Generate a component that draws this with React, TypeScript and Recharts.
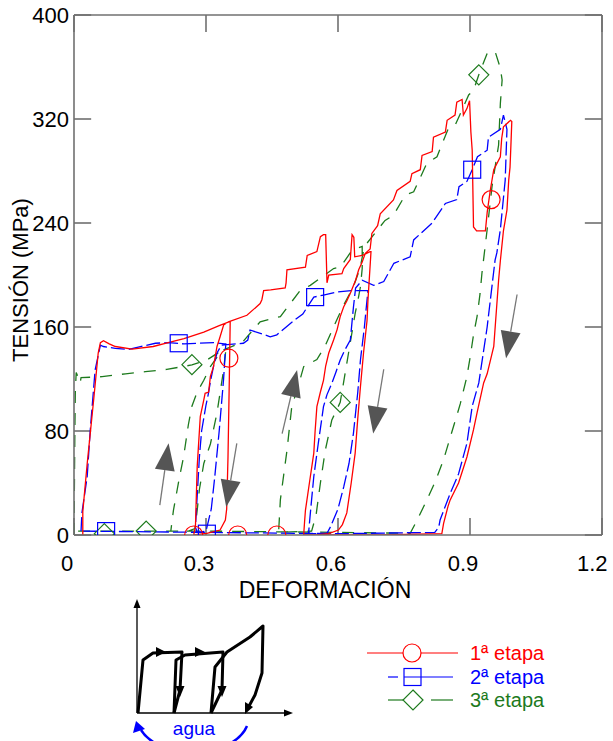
import React from 'react'
import { ComposedChart, Line, Scatter, XAxis, YAxis, ReferenceLine } from 'recharts'

// ---- data (strain, MPa) ----
const redX = [
  0.02, 0.02, 0.03, 0.045, 0.055, 0.06, 0.067, 0.08, 0.094, 0.132, 0.18, 0.214, 0.25, 0.295, 0.33, 0.352,
  0.355, 0.353, 0.35, 0.347, 0.344, 0.332, 0.302, 0.272,
  0.276, 0.28, 0.287, 0.295, 0.298, 0.306, 0.31, 0.317, 0.325, 0.332, 0.34, 0.351,
  0.393, 0.423, 0.427, 0.431, 0.447, 0.48, 0.482, 0.484, 0.526, 0.53, 0.552, 0.56, 0.567, 0.572, 0.575, 0.579, 0.609, 0.613, 0.628, 0.632, 0.636, 0.638, 0.655, 0.673,
  0.675, 0.668, 0.666, 0.658, 0.651, 0.645, 0.639, 0.63, 0.62, 0.61, 0.601, 0.579, 0.55, 0.522,
  0.524, 0.526, 0.535, 0.545, 0.548, 0.552, 0.56, 0.567, 0.572, 0.579, 0.59, 0.598, 0.605, 0.613, 0.62, 0.628, 0.64, 0.647, 0.655, 0.662, 0.673, 0.677, 0.69, 0.696,
  0.726, 0.734, 0.764, 0.768, 0.787, 0.791, 0.814, 0.817, 0.844, 0.848, 0.866, 0.87, 0.882, 0.885, 0.893, 0.899,
  0.902, 0.905, 0.908, 0.915, 0.935,
  0.939, 0.946, 0.954, 0.969, 0.972, 0.976, 0.992, 0.995,
  0.993, 0.991, 0.988, 0.984, 0.976, 0.969, 0.965, 0.954, 0.939, 0.931, 0.916, 0.908, 0.893, 0.874, 0.855, 0.85, 0.84, 0.836,
  0.7, 0.522,
]
const redY = [
  0, 18, 55, 105, 140, 148, 149.5, 147, 145, 143, 145, 148, 151, 156, 161, 164,
  164, 120, 60, 20, 11.5, 3.8, 1.3, 0,
  6.4, 52.6, 91, 104, 109, 110, 122, 129.5, 145, 152.5, 161.5, 164,
  169, 178, 181, 188, 188.5, 190, 194, 204, 206, 215, 218, 229.5, 231, 231, 194, 200, 201, 205, 212, 231, 229, 214, 215, 218,
  218, 180, 165, 140, 114, 90, 63, 40, 17, 8, 3.8, 1, 0, 0,
  10, 19, 40, 63, 80, 98.7, 110, 119, 130, 140, 150, 158, 168, 175.6, 180, 186, 196, 204, 210, 216.7, 220, 232, 238, 247,
  257.7, 265, 272, 278, 281, 292, 295, 306, 310, 319, 323, 333, 335, 323, 328, 334,
  310, 296, 237, 234, 234,
  248, 265, 281, 291, 305, 314, 319, 318,
  300, 283, 273, 250, 234, 211, 196, 145, 124, 117, 94, 81, 60, 40, 27, 22, 9, 1,
  0, 0,
]

const blueX = [
  0.016, 0.018, 0.03, 0.037, 0.048, 0.06, 0.067, 0.094, 0.124, 0.185, 0.215, 0.25, 0.317, 0.342,
  0.345, 0.34, 0.33, 0.32, 0.312, 0.306, 0.3, 0.28,
  0.276, 0.28, 0.285, 0.29, 0.3, 0.305, 0.31, 0.317, 0.325, 0.335,
  0.385, 0.395, 0.4, 0.446, 0.461, 0.5, 0.52, 0.545, 0.567, 0.6, 0.63, 0.668,
  0.66, 0.651, 0.645, 0.635, 0.625, 0.613, 0.6, 0.583, 0.575, 0.533,
  0.538, 0.545, 0.555, 0.567, 0.575, 0.586, 0.595, 0.605, 0.615, 0.628, 0.635, 0.64, 0.655, 0.681, 0.704, 0.727, 0.764, 0.772, 0.814, 0.844, 0.87, 0.875, 0.893, 0.905, 0.917, 0.939, 0.942, 0.969, 0.976,
  0.984, 0.98, 0.969, 0.961, 0.957, 0.939, 0.92, 0.905, 0.893, 0.874, 0.855, 0.832, 0.829, 0.82,
  0.6, 0.3, 0.02,
]
const blueY = [
  3, 17, 45, 81, 127, 146, 145, 143.6, 142.8, 147.5, 148, 147, 148, 147,
  147, 120, 80, 45, 20, 11.5, 3, 2,
  6, 30, 60, 80, 100, 108, 118, 129.5, 140, 146,
  147.5, 150, 157.7, 152.5, 154, 165, 170, 183, 184.6, 187, 188, 188,
  160, 134.6, 110, 78, 55, 37, 20, 6.4, 1.3, 1,
  20, 45, 70, 98.7, 108, 116.7, 125, 134.6, 142, 150, 175, 190, 196, 192, 195, 209, 214, 227, 240, 255, 258, 268, 272, 281, 291, 296, 306, 312, 323,
  312, 273, 235, 217, 211.5, 160, 117, 99, 70.5, 47, 32, 11.5, 6, 2,
  1, 2, 3,
]

const greenX = [
  0, 0.001, 0.002, 0.003, 0.005, 0.01, 0.014, 0.016, 0.064, 0.117, 0.162, 0.211, 0.268, 0.302, 0.336, 0.345,
  0.34, 0.325, 0.31, 0.295, 0.285, 0.28, 0.275, 0.26, 0.22,
  0.226, 0.24, 0.249, 0.26, 0.268, 0.28, 0.295, 0.31, 0.336,
  0.382, 0.423, 0.469, 0.514, 0.537, 0.59, 0.605, 0.632, 0.655,
  0.655, 0.651, 0.645, 0.639, 0.62, 0.605, 0.586, 0.571, 0.56, 0.55, 0.54, 0.465,
  0.469, 0.484, 0.495, 0.51, 0.522, 0.552, 0.57, 0.59, 0.61, 0.635, 0.65, 0.66,
  0.707, 0.726, 0.753, 0.772, 0.802, 0.825, 0.851, 0.866, 0.897, 0.908, 0.92, 0.939, 0.957, 0.969, 0.973,
  0.969, 0.965, 0.95, 0.939, 0.927, 0.923, 0.916, 0.908, 0.9, 0.893, 0.878, 0.867, 0.851, 0.84, 0.821, 0.802, 0.78, 0.764,
  0.6, 0.3, 0.0,
]
const greenY = [
  0, 40, 80, 110, 125, 121, 117, 121, 121.8, 124, 125.6, 127.4, 130.8, 134.6, 142, 142,
  127, 94, 70, 55, 35, 19, 5, 3, 3,
  19, 45, 60, 85, 99, 110, 119, 129.5, 142,
  148, 164, 168, 188, 192, 205, 206, 219, 222,
  205, 191, 180, 170.5, 132, 102, 88.5, 65, 40, 15, 3, 2,
  27, 65, 99, 115, 129.5, 135, 145, 160, 175, 191, 205, 222,
  242, 246, 261.5, 264, 286, 291, 313, 315, 338.5, 342, 354, 370.5, 372, 359, 350,
  332, 300, 268, 235, 201, 186, 168, 154, 136, 122, 101, 88.5, 70.5, 58, 41, 27, 11.5, 1.3,
  2, 3, 3,
]

const redMarkX = [0.272, 0.352, 0.372, 0.461, 0.948]
const redMarkY = [0, 136, 0, 0, 258]
const blueMarkX = [0.073, 0.238, 0.302, 0.548, 0.905]
const blueMarkY = [3, 147.5, 1, 183, 281]
const greenMarkX = [0.069, 0.164, 0.268, 0.605, 0.92]
const greenMarkY = [1, 3, 131, 102, 354]

// load / unload direction arrows: tail -> head
const arrowTailX = [0.195, 0.37, 0.473, 0.704, 1.007]
const arrowTailY = [23, 70.5, 78, 127.5, 185]
const arrowHeadX = [0.215, 0.346, 0.507, 0.68, 0.982]
const arrowHeadY = [70.5, 21.5, 127, 78, 136]

const xTicks = [0, 0.3, 0.6, 0.9, 1.2]
const yTicks = [0, 80, 160, 240, 320, 400]
const X_MIN = 0, X_MAX = 1.2, Y_MIN = 0, Y_MAX = 400

// inward tick length, in axis units (about 17px each way)
const TICK_DX = 0.039
const TICK_DY = 13

const zip = (xs: number[], ys: number[]) => xs.map((x, i) => ({ x, y: ys[i] }))

const RED = '#ff0000'
const BLUE = '#0000ff'
const GREEN = '#1d7a1d'
const AXIS = '#707070'
const FONT = '"Liberation Sans", Arial, sans-serif'

const circleShape = (p: any) => <circle cx={p.cx} cy={p.cy} r={9} fill="none" stroke={RED} strokeWidth={1.2} />
const squareShape = (p: any) => <rect x={p.cx - 8.5} y={p.cy - 8.5} width={17} height={17} fill="none" stroke={BLUE} strokeWidth={1.2} />
const diamondShape = (p: any) => (
  <polygon
    points={`${p.cx},${p.cy - 10} ${p.cx + 10},${p.cy} ${p.cx},${p.cy + 10} ${p.cx - 10},${p.cy}`}
    fill="none" stroke={GREEN} strokeWidth={1.2}
  />
)

const ArrowShape = (p: any) => {
  const { x1, y1, x2, y2 } = p
  const dx = x2 - x1, dy = y2 - y1
  const len = Math.hypot(dx, dy) || 1
  const ux = dx / len, uy = dy / len
  const hl = 27, hw = 10
  const bx = x2 - ux * hl, by = y2 - uy * hl
  return (
    <g>
      <line x1={x1} y1={y1} x2={bx} y2={by} stroke="#777" strokeWidth={1.3} />
      <polygon points={`${x2},${y2} ${bx - uy * hw},${by + ux * hw} ${bx + uy * hw},${by - ux * hw}`} fill="#555" />
    </g>
  )
}

// frame edges and inward tick marks as segments
const frameSegs = [
  [{ x: X_MIN, y: Y_MAX }, { x: X_MAX, y: Y_MAX }],
  [{ x: X_MAX, y: Y_MIN }, { x: X_MAX, y: Y_MAX }],
  ...xTicks.map((t) => [{ x: t, y: Y_MIN }, { x: t, y: Y_MIN + TICK_DY }]),
  ...xTicks.map((t) => [{ x: t, y: Y_MAX }, { x: t, y: Y_MAX - TICK_DY }]),
  ...yTicks.map((t) => [{ x: X_MIN, y: t }, { x: X_MIN + TICK_DX, y: t }]),
  ...yTicks.map((t) => [{ x: X_MAX, y: t }, { x: X_MAX - TICK_DX, y: t }]),
]

const tickStyle = { fill: '#000', fontSize: 22, fontFamily: FONT }

function Overlay() {
  const blk = '#000'
  return (
    <svg width={613} height={741} style={{ position: 'absolute', left: 0, top: 0, pointerEvents: 'none' }}>
      {/* axis titles */}
      <text x={20} y={280} transform="rotate(-90 20 280)" textAnchor="middle" dominantBaseline="central"
        fontSize={22} fontFamily={FONT} fill="#000">TENSIÓN (MPa)</text>
      <text x={325} y={598} textAnchor="middle" fontSize={23} fontFamily={FONT} fill="#000">DEFORMACIÓN</text>

      {/* legend */}
      <line x1={367} y1={653} x2={458} y2={653} stroke={RED} strokeWidth={1.2} />
      <circle cx={412} cy={653} r={9} fill="#fff" stroke={RED} strokeWidth={1.2} />
      <text x={470} y={660} fontSize={20} fontFamily={FONT} fill={RED}>1ª etapa</text>

      <line x1={388} y1={677} x2={398} y2={677} stroke={BLUE} strokeWidth={1.2} />
      <line x1={404} y1={677} x2={453} y2={677} stroke={BLUE} strokeWidth={1.2} />
      <rect x={404} y={668.5} width={17} height={17} fill="none" stroke={BLUE} strokeWidth={1.2} />
      <text x={470} y={684} fontSize={20} fontFamily={FONT} fill={BLUE}>2ª etapa</text>

      <line x1={388} y1={700} x2={403} y2={700} stroke={GREEN} strokeWidth={1.2} />
      <polygon points="413,690 423,700 413,710 403,700" fill="none" stroke={GREEN} strokeWidth={1.2} />
      <line x1={431} y1={700} x2={453} y2={700} stroke={GREEN} strokeWidth={1.2} />
      <text x={470} y={707} fontSize={20} fontFamily={FONT} fill={GREEN}>3ª etapa</text>

      {/* schematic inset */}
      <line x1={137} y1={713} x2={137} y2={606} stroke={blk} strokeWidth={1.3} />
      <polygon points="137,599 133.5,608 140.5,608" fill={blk} />
      <line x1={137} y1={713} x2={286} y2={713} stroke={blk} strokeWidth={1.3} />
      <polygon points="293,713 284,709.5 284,716.5" fill={blk} />
      <g fill="none" stroke={blk} strokeWidth={3} strokeLinejoin="round">
        <polyline points="138,713 143,660 153,653 182,652 180,690 174,713" />
        <polyline points="174,713 176,660 185,655 223,652 222,690 211,713" />
        <polyline points="211,713 215,667 227,652 250,637 263,626 262,673 255,695 248,708" />
      </g>
      <g fill={blk}>
        <polygon points="166,652 156,647 156,657" />
        <polygon points="205,652 195,647 195,657" />
        <polygon points="180,697 175.5,686 184.5,686" />
        <polygon points="222,697 217.5,686 226.5,686" />
        <polygon points="245,714 245,702 253,707" />
      </g>
      <text x={194} y={735} textAnchor="middle" fontSize={19} fontFamily={FONT} fill={BLUE}>agua</text>
      <path d="M 247 726 A 56 36 0 0 1 141 730" fill="none" stroke={BLUE} strokeWidth={2.5} />
      <polygon points="136,721 133,733 145,729" fill={BLUE} />
    </svg>
  )
}

export default function App() {
  return (
    <div style={{ position: 'absolute', left: 0, top: 0, width: 613, height: 741, background: '#fff', fontFamily: FONT }}>
      <ComposedChart width={613} height={600} margin={{ top: 15, right: 11, left: 0, bottom: 5 }}>
        <XAxis
          dataKey="x" type="number" domain={[X_MIN, X_MAX]} ticks={xTicks} height={60}
          axisLine={{ stroke: AXIS, strokeWidth: 1.6 }} tickLine={false}
          tickSize={0} tickMargin={20} tick={{ ...tickStyle, dx: -7 }}
          allowDataOverflow
        />
        <YAxis
          type="number" domain={[Y_MIN, Y_MAX]} ticks={yTicks} width={74}
          axisLine={{ stroke: AXIS, strokeWidth: 1.6 }} tickLine={false}
          tickSize={0} tickMargin={5} tick={tickStyle}
          allowDataOverflow
        />

        {frameSegs.map((seg, i) => (
          <ReferenceLine key={`f${i}`} segment={seg} stroke={AXIS} strokeWidth={1.6} ifOverflow="visible" />
        ))}

        <Line data={zip(greenX, greenY)} dataKey="y" type="linear" stroke={GREEN} strokeWidth={1.3}
          strokeDasharray="12 10" dot={false} activeDot={false} isAnimationActive={false} />
        <Line data={zip(blueX, blueY)} dataKey="y" type="linear" stroke={BLUE} strokeWidth={1.3}
          strokeDasharray="14 4" dot={false} activeDot={false} isAnimationActive={false} />
        <Line data={zip(redX, redY)} dataKey="y" type="linear" stroke={RED} strokeWidth={1.3}
          dot={false} activeDot={false} isAnimationActive={false} />

        <Scatter data={zip(greenMarkX, greenMarkY)} dataKey="y" shape={diamondShape} isAnimationActive={false} />
        <Scatter data={zip(blueMarkX, blueMarkY)} dataKey="y" shape={squareShape} isAnimationActive={false} />
        <Scatter data={zip(redMarkX, redMarkY)} dataKey="y" shape={circleShape} isAnimationActive={false} />

        {arrowTailX.map((x, i) => (
          <ReferenceLine
            key={`a${i}`}
            segment={[{ x, y: arrowTailY[i] }, { x: arrowHeadX[i], y: arrowHeadY[i] }]}
            shape={ArrowShape}
            ifOverflow="visible"
          />
        ))}
      </ComposedChart>
      <Overlay />
    </div>
  )
}
